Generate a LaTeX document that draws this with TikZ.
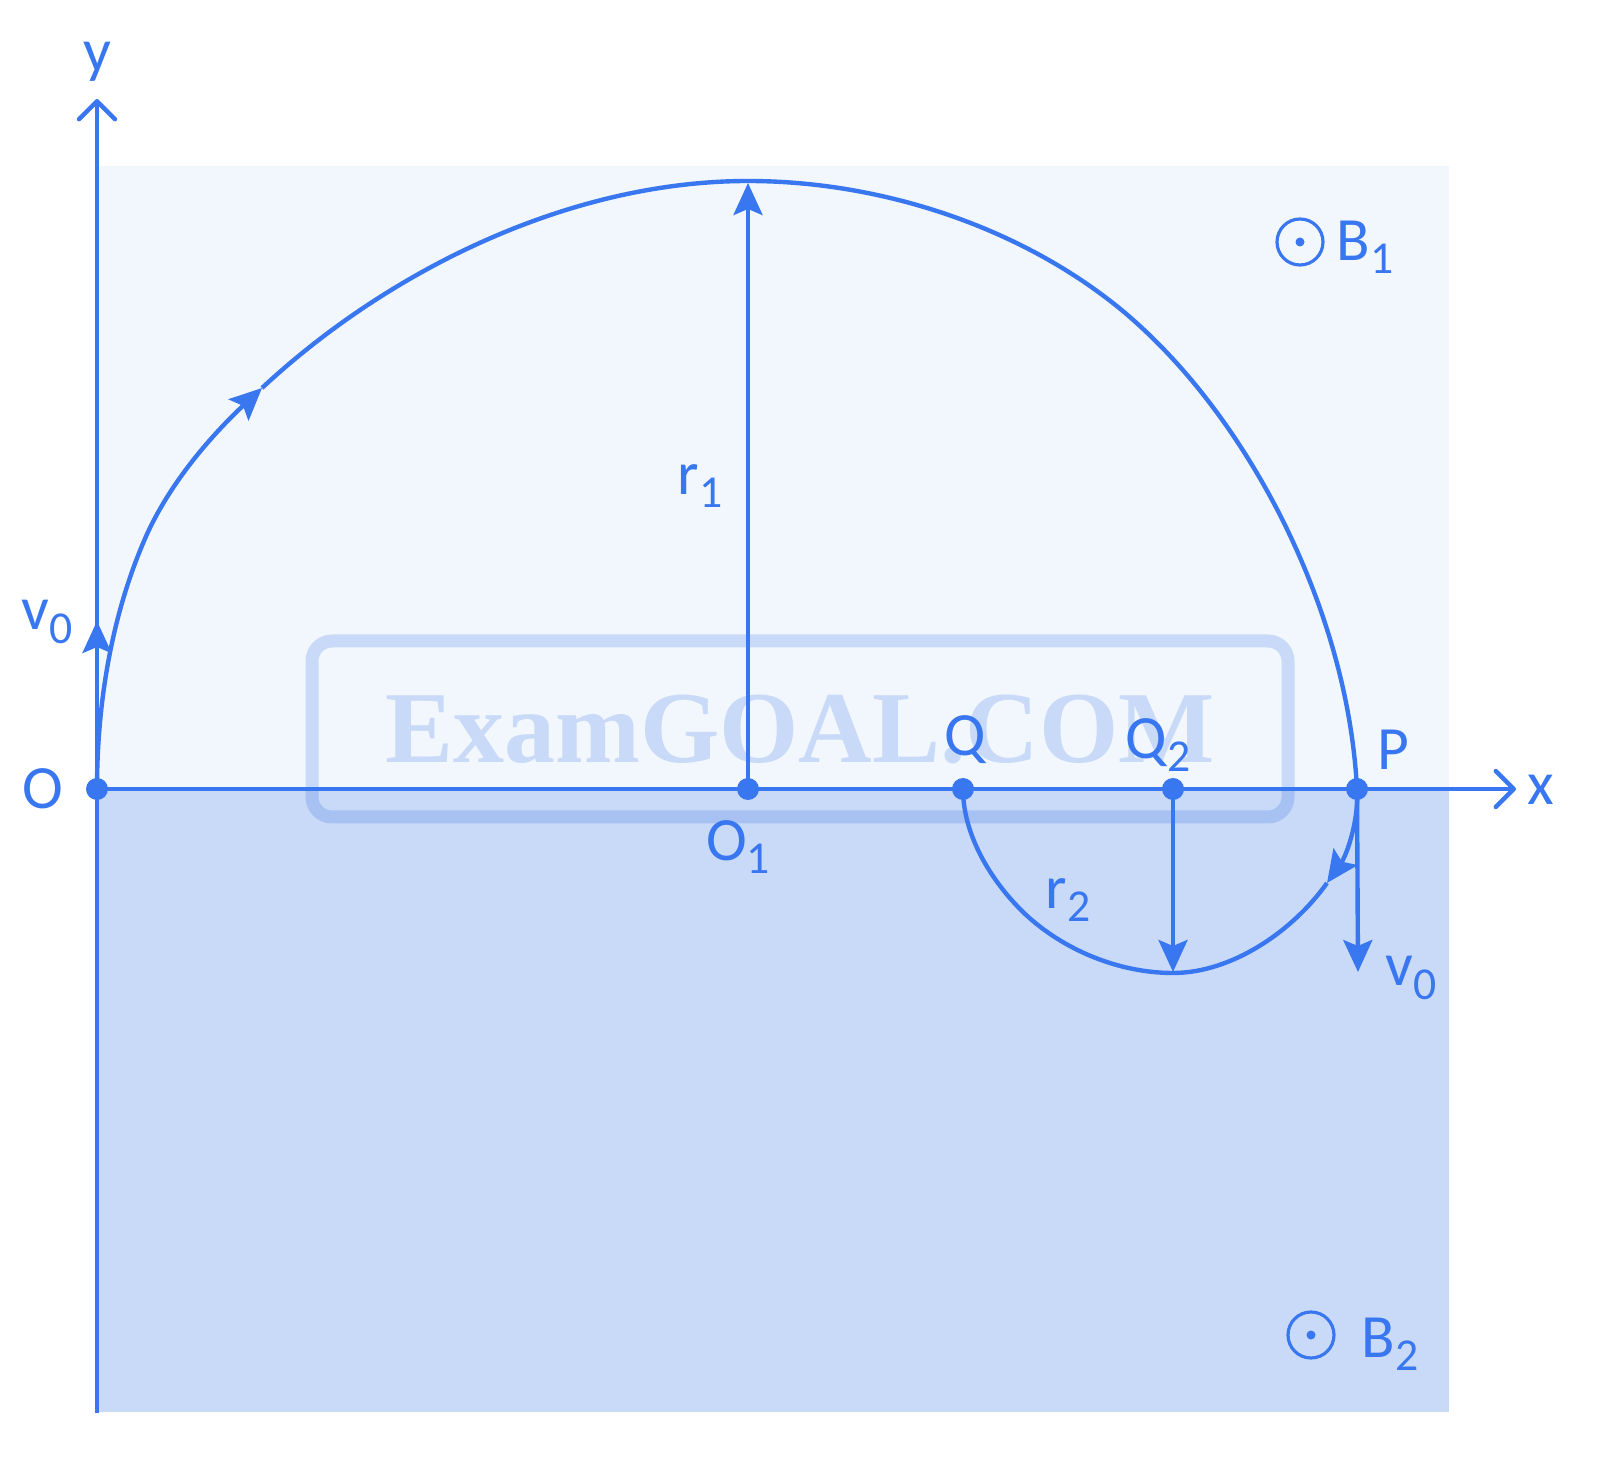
\documentclass[tikz,border=0pt]{standalone}
\usepackage{fontspec}
\setmainfont{Carlito}
\newfontfamily\wmfont{Liberation Serif}
\usetikzlibrary{arrows.meta}

\definecolor{penblue}{RGB}{56,119,239}
\definecolor{topfield}{RGB}{242,246,253}
\definecolor{lowfield}{RGB}{201,218,248}
\definecolor{wmark}{RGB}{211,226,249}

\newcommand\lowidx[1]{\raisebox{-0.45ex}{\fontsize{13}{13}\selectfont #1}}

\tikzset{
  lbl/.style={text=penblue, font=\fontsize{17.5}{20}\selectfont, inner sep=0pt},
  axis/.style={-{Straight Barb[length=1.8mm,width=3.6mm,round]}},
}

\begin{document}
\begin{tikzpicture}[x=0.1mm, y=-0.1mm, line width=1.25pt, draw=penblue, fill=penblue,
    >={Stealth[length=3.2mm,width=2.9mm,inset=0.6mm]}]
\useasboundingbox (0,0) rectangle (1600,1460);

			% the two field regions
			\fill[topfield] (97,166) rectangle (1449,789);
			\fill[lowfield] (97,789) rectangle (1449,1412);

			\begin{scope}[blend mode=multiply]
				\draw[wmark, line width=3.7pt, rounded corners=2mm] (312,641) rectangle (1288,817);
				\node[text=wmark, font=\wmfont\bfseries\fontsize{29}{30}\selectfont, anchor=base, inner sep=0pt] (wm) at (800,763) {ExamGOAL.COM};
			\end{scope}

			\coordinate (O) at (97,789);
			\coordinate (O1) at (748,789);
			\coordinate (Q) at (963,789);
			\coordinate (Q2) at (1173,789);
			\coordinate (P) at (1357,789);
			\coordinate (ytop) at (97,99);
			\coordinate (ybot) at (97,1413);
			\coordinate (xend) at (1516,789);
			\coordinate (top1) at (748,183);
			\coordinate (bot2) at (1173,972);
			\coordinate (v0up) at (97,621);
			\coordinate (v0down) at (1358,972);
			\coordinate (turn1) at (262,388);
			\coordinate (turn2) at (1327,883);

			\draw [axis] (ybot) -- (ytop);
			\draw [axis] (O) -- (xend);

			\draw [->] (O) -- (v0up);
			\draw [->] (O1) -- (top1);
			\draw [->] (Q2) -- (bot2);
			\draw [->] (P) -- (v0down);

			% path in B1, then in B2
			\draw [->] (O) .. controls (97,705) and (111,618) .. (144,541)
				.. controls (169,482) and (215,432) .. (turn1);
			\draw [->] (turn1) .. controls (391,268) and (572,181) .. (748,181)
				.. controls (881,181) and (1022,227) .. (1124,312)
				.. controls (1189,367) and (1241,439) .. (1280,515)
				.. controls (1323,600) and (1352,694) .. (P)
				.. controls (1359,822) and (1346,856) .. (turn2);
			\draw (turn2) .. controls (1293,931) and (1232,973) .. (1173,973)
				.. controls (1119,973) and (1063,950) .. (1024,913)
				.. controls (991,881) and (963,835) .. (Q);

			\foreach \p in {O, O1, Q, Q2, P} {
				\fill (\p) circle (11);
			}

			% field symbols
			\foreach \c in {(1300,242), (1311,1335)} {
				\draw [line width=0.9pt] \c circle (23);
				\fill \c circle (4.5);
			}

			\node[lbl] (ylab) at (97,62) {y};
			\node[lbl] (xlab) at (1541,790) {x};
			\node[lbl] (olab) at (43,789) {O};
			\node[lbl] (v0lab) at (47,622) {v\lowidx{0}};
			\node[lbl] (r1lab) at (700,486) {r\lowidx{1}};
			\node[lbl] (o1lab) at (738,847) {O\lowidx{1}};
			\node[lbl] (qlab) at (965,740) {Q};
			\node[lbl] (q2lab) at (1158,745) {Q\lowidx{2}};
			\node[lbl] (plab) at (1393,750) {P};
			\node[lbl] (r2lab) at (1068,900) {r\lowidx{2}};
			\node[lbl] (v0lab2) at (1411,978) {v\lowidx{0}};
			\node[lbl] (b1lab) at (1365,247) {B\lowidx{1}};
			\node[lbl] (b2lab) at (1390,1344) {B\lowidx{2}};
		\end{tikzpicture}
\end{document}
